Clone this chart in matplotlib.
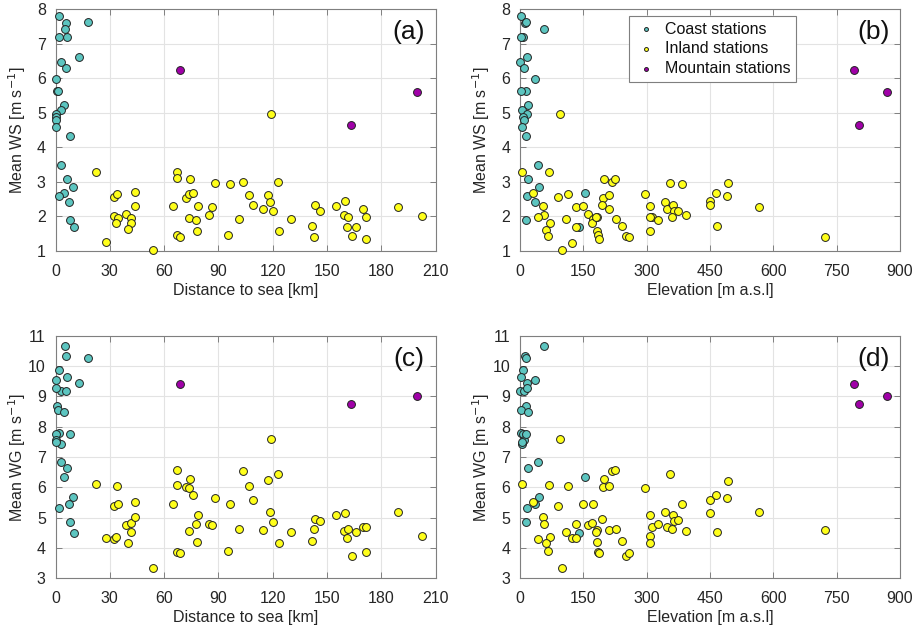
import matplotlib
matplotlib.use("Agg")
import matplotlib.pyplot as plt
from matplotlib.ticker import MultipleLocator
import numpy as np

plt.rcParams['font.family'] = ['Liberation Sans', 'DejaVu Sans']

# ---------------- Coast stations (station based) ----------------
coast_dist = [1.8, 5.7, 18.0, 5.1, 1.8, 6.4, 13.0, 2.8, 5.7, 0.0, 0.9, 1.5, 4.6, 2.8,
              0.0, 0.0, 0.5, 0.5, 8.1, 3.1, 6.4, 9.9, 4.6, 2.0, 7.2, 7.9, 10.1]
coast_elev = [2.4, 13.0, 15.0, 57.6, 7.9, 2.4, 17.4, 0.0, 9.5, 34.7, 13.4, 2.4, 18.1, 4.7,
              16.6, 7.9, 9.5, 4.7, 13.4, 42.6, 19.7, 44.2, 153.9, 15.8, 34.7, 14.2, 140.4]
coast_ws = [7.82, 7.61, 7.62, 7.42, 7.19, 7.19, 6.63, 6.46, 6.31, 5.98, 5.63, 5.63, 5.23, 5.07,
            4.97, 4.87, 4.80, 4.60, 4.34, 3.48, 3.08, 2.86, 2.67, 2.58, 2.43, 1.90, 1.69]
coast_wg = [7.80, 10.34, 10.25, 10.67, 9.88, 9.63, 9.44, 9.18, 9.18, 9.54, 8.68, 8.55, 8.47, 7.43,
            9.27, 7.75, 7.55, 7.51, 7.77, 6.82, 6.64, 5.68, 6.34, 5.33, 5.45, 4.86, 4.51]

# ---------------- Inland stations, read against distance ----------------
inland_dist = [22.2, 28.1, 32.5, 34.0, 32.5, 34.5, 33.3, 39.1, 41.9, 41.9, 40.1, 43.7, 44.1, 53.8,
               64.9, 67.1, 66.9, 67.2, 68.9, 74.2, 72.2, 73.9, 76.2, 73.5, 78.8, 77.5, 78.3, 85.1,
               86.7, 88.2, 96.3, 95.4, 101.5, 103.7, 106.7, 109.3, 114.8, 117.4, 118.7, 120.0,
               119.3, 122.8, 123.3, 130.1, 141.5, 143.0, 143.4, 146.0, 155.2, 159.8, 159.4, 161.6,
               160.9, 165.9, 163.9, 170.1, 171.7, 171.7, 189.4, 202.6]
inland_dist_ws = [3.28, 1.25, 2.56, 2.65, 2.00, 1.95, 1.81, 2.06, 1.97, 1.81, 1.63, 2.70, 2.29, 1.04,
                  2.31, 3.28, 3.11, 1.47, 1.41, 3.08, 2.53, 2.64, 2.69, 1.97, 2.29, 1.91, 1.58, 2.04,
                  2.26, 2.97, 2.95, 1.45, 1.93, 3.00, 2.61, 2.32, 2.21, 2.61, 2.42, 2.16,
                  4.97, 2.99, 1.58, 1.93, 1.73, 1.40, 2.33, 2.15, 2.31, 2.44, 2.03, 1.99,
                  1.70, 1.70, 1.44, 2.22, 1.99, 1.34, 2.26, 2.01]
inland_dist_wg = [6.10, 4.33, 5.38, 6.05, 4.30, 5.45, 4.37, 4.77, 4.84, 4.53, 4.16, 5.53, 5.01, 3.35,
                  5.45, 6.57, 6.09, 3.87, 3.84, 6.26, 6.01, 5.99, 5.76, 4.57, 5.10, 4.78, 4.19, 4.79,
                  4.77, 5.64, 5.44, 3.89, 4.62, 6.55, 6.05, 5.57, 4.60, 6.23, 5.20, 4.87,
                  7.58, 6.44, 4.16, 4.52, 4.22, 4.62, 4.95, 4.90, 5.09, 5.15, 4.56, 4.63,
                  4.33, 4.52, 3.75, 4.68, 4.70, 3.86, 5.19, 4.41]

# ---------------- Inland stations, read against elevation ----------------
inland_elev = [93.9, 5.5, 69.4, 31.6, 55.2, 56.8, 43.4, 70.2, 61.5, 66.3, 100.2, 89.2, 112.8, 108.1,
               122.3, 132.6, 132.6, 148.3, 161.7, 172.0, 169.6, 183.0, 180.0, 182.3, 185.4, 187.8,
               198.0, 197.3, 194.9, 211.5, 209.9, 218.6, 225.7, 227.2, 240.6, 251.7, 258.8, 296.7,
               308.5, 311.7, 308.5, 306.9, 327.4, 343.2, 347.9, 355.1, 361.4, 363.7, 359.0, 374.8,
               382.7, 393.7, 450.8, 450.8, 465.0, 465.8, 491.2, 492.0, 565.7, 722.5]
inland_elev_ws = [4.98, 3.28, 3.28, 2.69, 2.29, 2.04, 1.99, 1.80, 1.61, 1.43, 1.04, 2.57, 2.65, 1.93,
                  1.24, 2.26, 1.69, 2.31, 2.06, 1.94, 1.80, 1.99, 1.99, 1.59, 1.45, 1.34,
                  3.09, 2.53, 2.33, 2.62, 2.21, 3.01, 3.09, 1.92, 1.73, 1.44, 1.41, 2.64,
                  2.29, 1.99, 1.99, 1.58, 1.91, 2.42, 2.21, 2.98, 2.32, 2.15, 1.99, 2.15,
                  2.95, 2.03, 2.45, 2.32, 2.69, 1.71, 2.60, 2.97, 2.27, 1.40]
inland_elev_wg = [7.58, 6.10, 6.09, 5.53, 5.02, 4.79, 4.30, 4.36, 4.16, 3.89, 3.35, 5.40, 6.05, 4.52,
                  4.33, 4.78, 4.33, 5.45, 4.77, 5.45, 4.82, 4.59, 4.52, 4.19, 3.86, 3.85,
                  6.26, 6.01, 4.96, 6.05, 4.59, 6.55, 6.57, 4.62, 4.22, 3.75, 3.84, 5.98,
                  5.10, 4.70, 4.41, 4.16, 4.78, 5.20, 4.68, 6.44, 5.09, 4.88, 4.63, 4.91,
                  5.44, 4.56, 5.57, 5.15, 5.76, 4.52, 5.64, 6.22, 5.19, 4.60]

# ---------------- Mountain stations ----------------
mountain_dist = [68.9, 163.1, 199.7]
mountain_elev = [792.0, 802.6, 869.0]
mountain_ws = [6.25, 4.66, 5.60]
mountain_wg = [9.42, 8.75, 9.02]

group_labels = ['Coast stations', 'Inland stations', 'Mountain stations']
panel_labels = ['(a)', '(b)', '(c)', '(d)']
col_coast = '#5cc5c0'
col_inland = '#ffff1a'
col_mountain = '#a000a8'

W, H = 916, 631
fig = plt.figure(figsize=(W / 100, H / 100), dpi=100)

def box(l, t, r, b):
    return [l / W, 1 - b / H, (r - l) / W, (b - t) / H]

axes = [fig.add_axes(box(55.5, 9.3, 435.5, 251.0)),
        fig.add_axes(box(520.0, 9.3, 900.0, 251.0)),
        fig.add_axes(box(55.5, 335.7, 435.5, 578.3)),
        fig.add_axes(box(520.0, 335.7, 900.0, 578.3))]

msize = 32
edge = dict(edgecolors='#222222', linewidths=0.7, zorder=3, clip_on=False)

panels = [
    (coast_dist, coast_ws, inland_dist, inland_dist_ws, mountain_dist, mountain_ws),
    (coast_elev, coast_ws, inland_elev, inland_elev_ws, mountain_elev, mountain_ws),
    (coast_dist, coast_wg, inland_dist, inland_dist_wg, mountain_dist, mountain_wg),
    (coast_elev, coast_wg, inland_elev, inland_elev_wg, mountain_elev, mountain_wg),
]

text_col = '#262626'
fs = 11.5
for i, ax in enumerate(axes):
    cx, cy, ix, iy, mx, my = panels[i]
    ax.scatter(cx, cy, s=msize, c=col_coast, label=group_labels[0], **edge)
    ax.scatter(ix, iy, s=msize, c=col_inland, label=group_labels[1], **edge)
    ax.scatter(mx, my, s=msize, c=col_mountain, label=group_labels[2], **edge)
    if i in (0, 2):
        ax.set_xlim(0, 210)
        ax.xaxis.set_major_locator(MultipleLocator(30))
        ax.set_xlabel('Distance to sea [km]', fontsize=fs, color=text_col, labelpad=3)
    else:
        ax.set_xlim(0, 900)
        ax.xaxis.set_major_locator(MultipleLocator(150))
        ax.set_xlabel('Elevation [m a.s.l]', fontsize=fs, color=text_col, labelpad=3)
    if i < 2:
        ax.set_ylim(1, 8)
        ax.set_ylabel('Mean WS [m s$^{-1}$]', fontsize=fs, color=text_col)
    else:
        ax.set_ylim(3, 11)
        ax.set_ylabel('Mean WG [m s$^{-1}$]', fontsize=fs, color=text_col)
    ax.yaxis.set_label_coords(-27.5 / 380, 0.5)
    ax.yaxis.set_major_locator(MultipleLocator(1))
    ax.grid(True, color='#e3e3e3', linewidth=0.8, zorder=0)
    ax.set_axisbelow(True)
    for sp in ax.spines.values():
        sp.set_color('#7f7f7f')
        sp.set_linewidth(0.8)
    ax.tick_params(direction='in', length=4, width=0.7, color='#7f7f7f',
                   top=True, right=True, labelsize=fs, labelcolor=text_col)
    ax.tick_params(axis='x', pad=9)
    ax.tick_params(axis='y', pad=7)
    ax.text(0.972, 0.955, panel_labels[i], transform=ax.transAxes, ha='right', va='top',
            fontsize=19, color='#111111')

leg = axes[1].legend(loc='upper left', bbox_to_anchor=(109 / 380, 0.972), fontsize=fs,
                     markerscale=0.5, handletextpad=0.5, borderpad=0.35, borderaxespad=0,
                     labelspacing=0.3, fancybox=False, framealpha=1,
                     edgecolor='#7f7f7f', handlelength=1.4)
leg.get_frame().set_linewidth(0.8)
for t in leg.get_texts():
    t.set_color('#111111')

fig.savefig('out.png', dpi=100)
